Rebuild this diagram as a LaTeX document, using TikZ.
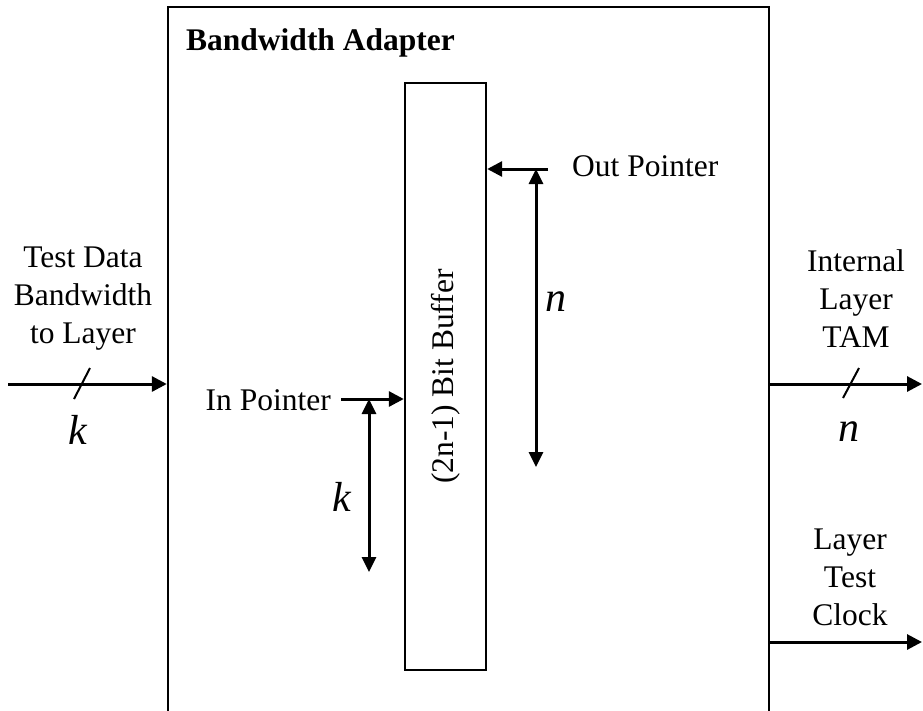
\documentclass[tikz,border=0pt]{standalone}
\usepackage{fontspec}
\setmainfont{Liberation Serif}
\usetikzlibrary{arrows.meta}
\begin{document}
\begin{tikzpicture}[x=1pt,y=-1pt,
  box/.style={draw, line width=2.4pt, inner sep=0pt},
  arr/.style={line width=3pt, -{Triangle[length=15pt,width=15pt]}},
  darr/.style={line width=3pt, {Triangle[length=15pt,width=14pt]}-{Triangle[length=15pt,width=14pt]}},
  slashline/.style={line width=2pt},
  lbl/.style={font=\fontsize{31.5}{38}\selectfont, align=center, inner sep=0pt},
  mlbl/.style={font=\fontsize{42}{46}\selectfont\itshape, inner sep=0pt}]
\useasboundingbox (0,0) rectangle (923,710);
\clip (0,0) rectangle (923,710);
% boxes
\node[box, minimum width=601pt, minimum height=723pt] (outer) at (468.5,368.5) {};
\node[box, minimum width=81pt, minimum height=587pt] (buf) at (445.5,376.5) {};
\node[lbl, rotate=90] (buftxt) at (buf.center) {(2n-1) Bit Buffer};
\node[lbl, font=\fontsize{31.5}{38}\selectfont\bfseries, anchor=west] (title) at (186,43) {Bandwidth Adapter};
% input
\coordinate (inL) at (8,384);
\draw[arr] (inL) -- (inL -| outer.west);
\draw[slashline] (74,399) -- (90,368);
\node[lbl] (intxt) at (83,299) {Test Data\\Bandwidth\\to Layer};
\node[mlbl] (kin) at (78,430) {k};
% output TAM
\coordinate (outR) at (922,384);
\draw[arr] (outer.east |- outR) -- (outR);
\draw[slashline] (843,398) -- (859,368);
\node[lbl] (outtxt) at (856,299) {Internal\\Layer\\TAM};
\node[mlbl] (nout) at (849,432) {n};
% clock
\coordinate (clk) at (922,642);
\draw[arr] (outer.east |- clk) -- (clk);
\node[lbl] (clktxt) at (850,577) {Layer\\Test\\Clock};
% out pointer
\coordinate (op) at (548,169);
\draw[arr] (op) -- (op -| buf.east);
\node[lbl, anchor=west] (optxt) at (572,166) {Out Pointer};
\coordinate (nt) at (536,169);
\coordinate (nb) at (536,467);
\draw[darr] (nt) -- (nb);
\node[mlbl] (nmid) at (556,302) {n};
% in pointer
\coordinate (ip) at (341,399);
\draw[arr] (ip) -- (ip -| buf.west);
\node[lbl, anchor=east] (iptxt) at (331,400) {In Pointer};
\coordinate (kt) at (369,399);
\coordinate (kb) at (369,572);
\draw[darr] (kt) -- (kb);
\node[mlbl] (kmid) at (342,497) {k};
\end{tikzpicture}
\end{document}
